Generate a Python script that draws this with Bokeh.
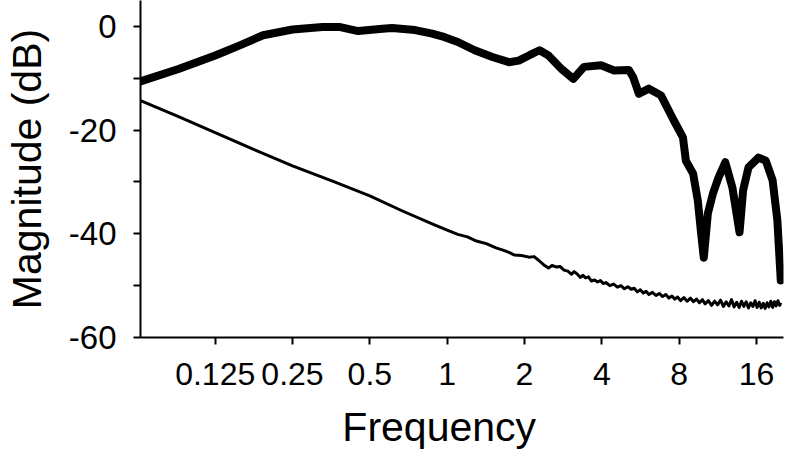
from bokeh.plotting import figure
from bokeh.models import Range1d, FixedTicker, CustomJSTickFormatter, ColumnDataSource
from bokeh.embed import file_html
from bokeh.resources import INLINE

# ---- data ----
x_ticks = [0.125, 0.25, 0.5, 1, 2, 4, 8, 16]
y_ticks = [-60, -40, -20, 0]
y_minor = [-50, -30, -10]

resp_f = [0.064, 0.09, 0.125, 0.155, 0.192, 0.25, 0.327, 0.38, 0.45, 0.56, 0.61, 0.75,
          0.874, 0.955, 1.1, 1.28, 1.5, 1.74, 1.9, 2.1, 2.29, 2.48, 2.8, 3.1, 3.41, 3.97,
          4.47, 5.1, 5.3, 5.58, 6.1, 6.8, 7.62, 8.28, 8.5, 9.07, 9.46, 9.72, 9.98, 10.35,
          10.84, 11.4, 12.1, 12.9, 13.75, 14.2, 14.9, 16.3, 17.4, 18.5, 19.3, 19.9]
resp_db = [-10.6, -8.2, -5.6, -3.7, -1.7, -0.6, -0.1, -0.1, -0.9, -0.45, -0.3, -0.7,
           -1.4, -1.9, -3.0, -4.6, -5.9, -6.9, -6.6, -5.5, -4.6, -5.6, -8.3, -10.1, -7.8, -7.5,
           -8.5, -8.4, -9.8, -13.0, -12.0, -13.3, -18.1, -21.4, -25.9, -28.4, -33.6, -39.4, -44.6, -36.1,
           -32.2, -29.1, -26.2, -31.1, -39.7, -31.6, -27.2, -25.3, -25.9, -29.7, -37.4, -49.0]

noise_f = [0.064, 0.09, 0.125, 0.18, 0.25, 0.36, 0.5, 0.67, 0.874, 1.0, 1.1, 1.2, 1.3,
           1.42, 1.55, 1.66, 1.74, 1.83, 1.95, 2.08, 2.18, 2.27, 2.38, 2.48, 2.56, 2.66,
           2.75, 2.85, 2.95, 3.05, 3.12, 3.2, 3.3, 3.38, 3.46, 3.55, 3.64, 3.75, 3.85, 3.95,
           4.05, 4.15, 4.3, 4.45, 4.6, 4.75, 4.9, 5.05, 5.2, 5.35, 5.5, 5.65, 5.8, 5.95,
           6.1, 6.3, 6.5, 6.7, 6.9, 7.1, 7.3, 7.5, 7.7, 7.9, 8.1, 8.35, 8.6, 8.85, 9.1,
           9.35, 9.6, 9.85, 10.1, 10.4, 10.7, 11.0, 11.3, 11.6, 11.9, 12.2, 12.5, 12.8,
           13.1, 13.4, 13.7, 14.0, 14.3, 14.6, 14.9, 15.2, 15.5, 15.8, 16.1, 16.4, 16.7,
           17.0, 17.3, 17.6, 17.9, 18.2, 18.5, 18.8, 19.1, 19.4, 19.7, 19.9]
noise_db = [-14.3, -17.4, -20.5, -23.9, -26.9, -29.9, -32.7, -35.6, -38.1, -39.3, -40.1, -40.6, -41.4,
            -41.9, -42.7, -43.2, -43.6, -44.1, -44.2, -44.5, -44.4, -45.1, -46.0, -46.6, -46.1, -46.4,
            -46.3, -47.0, -47.2, -47.8, -47.3, -47.7, -48.4, -48.0, -48.5, -48.3, -49.1, -48.9, -49.3, -49.0,
            -49.6, -49.4, -50.0, -49.7, -50.3, -50.0, -50.6, -50.2, -50.7, -50.5, -51.2, -50.8, -51.4, -51.1,
            -51.7, -51.3, -51.9, -51.5, -52.1, -51.7, -52.4, -52.0, -52.6, -52.2, -52.9, -52.3, -53.0, -52.4, -53.1,
            -52.6, -53.3, -52.7, -53.5, -52.9, -53.8, -53.0, -53.7, -52.8, -54.0, -53.1, -53.9, -52.7,
            -54.1, -53.2, -54.2, -53.0, -54.0, -53.1, -54.3, -53.3, -54.0, -52.9, -54.2, -53.2, -54.3,
            -53.4, -54.4, -53.3, -54.1, -53.0, -54.2, -53.1, -53.9, -52.9, -53.8, -53.3]

x_label = "Frequency"
y_label = "Magnitude (dB)"

FONT = "Liberation Sans"
NBSP = "\u00a0"

p = figure(width=786, height=455, x_axis_type="log",
           x_range=Range1d(2 ** -3.966, 2 ** 4.35), y_range=Range1d(-60, 5),
           output_backend="svg", toolbar_location=None,
           min_border_left=137, min_border_right=3, min_border_top=0, min_border_bottom=118)
p.outline_line_color = None
p.grid.visible = False
p.background_fill_color = "white"
p.border_fill_color = "white"

src_r = ColumnDataSource(dict(f=resp_f, db=resp_db))
src_n = ColumnDataSource(dict(f=noise_f, db=noise_db))
p.line("f", "db", source=src_n, line_color="black", line_width=3, line_join="round")
p.line("f", "db", source=src_r, line_color="black", line_width=8, line_join="round", line_cap="round")

xa = p.xaxis[0]
xa.ticker = FixedTicker(ticks=x_ticks, minor_ticks=[])
xa.formatter = CustomJSTickFormatter(code="return tick.toString();")
# the axis title is centred a little left of the frame centre in the original
xa.axis_label = x_label + NBSP * 4

ya = p.yaxis[0]
ya.ticker = FixedTicker(ticks=y_ticks, minor_ticks=y_minor)
ya.formatter = CustomJSTickFormatter(code="return tick.toString();")
ya.axis_label = y_label

for ax in (xa, ya):
    ax.axis_line_color = "black"
    ax.axis_line_width = 2
    ax.major_tick_line_color = "black"
    ax.major_tick_line_width = 2
    ax.minor_tick_line_color = "black"
    ax.minor_tick_line_width = 2
    ax.major_tick_in = 0
    ax.major_tick_out = 7
    ax.minor_tick_in = 0
    ax.minor_tick_out = 7
    ax.major_label_text_font = FONT
    ax.major_label_text_color = "black"
    ax.major_label_text_line_height = 1.0
    ax.axis_label_text_font = FONT
    ax.axis_label_text_font_size = "41px"
    ax.axis_label_text_font_style = "normal"
    ax.axis_label_text_color = "black"
    ax.axis_label_text_line_height = 1.0

xa.major_label_text_font_size = "32px"
ya.major_label_text_font_size = "33px"
xa.major_label_standoff = 18
xa.axis_label_standoff = 16
ya.major_label_standoff = 17
ya.axis_label_standoff = 16

open("out.html", "w").write(file_html(p, INLINE))
